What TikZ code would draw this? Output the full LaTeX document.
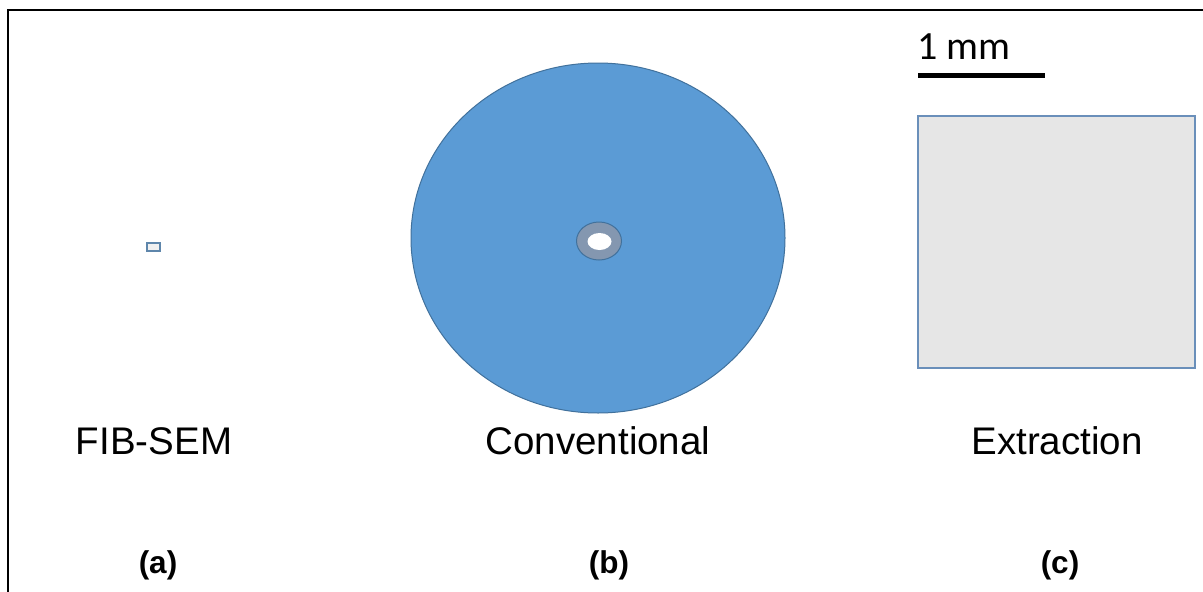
\documentclass[tikz,border=0pt]{standalone}
\usepackage{fontspec}
\setmainfont{Liberation Sans}
\newfontfamily\calib{Carlito}
\definecolor{discblue}{HTML}{5B9BD5}
\definecolor{edgeblue}{HTML}{41719C}
\definecolor{ringgray}{HTML}{8497B0}
\definecolor{sqgray}{HTML}{E6E6E6}
\definecolor{sqedge}{HTML}{6A8FBA}
\tikzset{
  lbl/.style={font=\fontsize{38.5}{40}\selectfont, inner sep=0pt},
  tag/.style={font=\fontsize{31.5}{34}\selectfont\bfseries, inner sep=0pt},
}
\begin{document}
\begin{tikzpicture}[x=1pt,y=-1pt]
\useasboundingbox (0,0) rectangle (1203,592);
\fill[white] (0,0) rectangle (1203,592);
% frame
\draw[line width=2.2pt] (8,600) -- (8,10) -- (1210,10);
% (a) small sample
\node[draw=edgeblue!85, line width=2pt, fill=sqgray!60, minimum width=13pt, minimum height=8pt, inner sep=0pt] (fib) at (153.5,246.5) {};
% (b) disc
\fill[discblue, draw=edgeblue, line width=1pt] (598,238) ellipse [x radius=187, y radius=175];
\coordinate (disc) at (598,238);
\fill[ringgray, draw=edgeblue, line width=1pt] (599,241) ellipse [x radius=22.5, y radius=19];
\fill[white] (599.5,241.5) ellipse [x radius=12, y radius=8.5];
% (c) square
\node[draw=sqedge, line width=2pt, fill=sqgray, minimum width=277pt, minimum height=252pt, inner sep=0pt] (ext) at (1056,241.5) {};
% scale bar
\draw[line width=5pt] (918,75) -- (1045,75);
\node[inner sep=0pt, anchor=west, font=\calib\fontsize{40}{42}\selectfont] (scale) at (917,47) {1 mm};
% labels
\node[lbl] (l1) at (154,441) {FIB-SEM};
\node[lbl] (l2) at (598,441) {Conventional};
\node[lbl] (l3) at (1057,441) {Extraction};
\node[tag] (t1) at (158,565) {(a)};
\node[tag] (t2) at (609,565) {(b)};
\node[tag] (t3) at (1060,565) {(c)};
\end{tikzpicture}
\end{document}
